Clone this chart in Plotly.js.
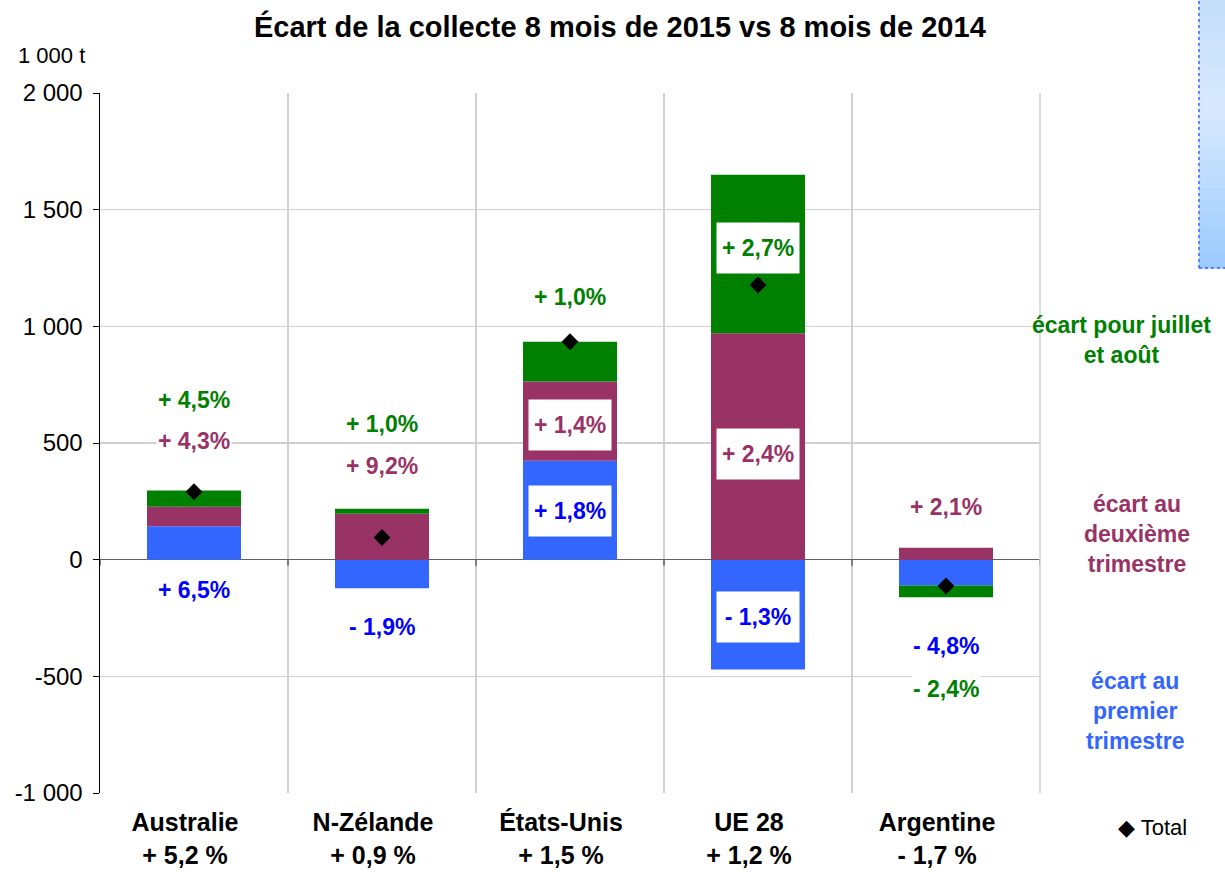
<!DOCTYPE html>
<html>
<head>
<meta charset="utf-8">
<script src="https://cdn.plot.ly/plotly-3.0.1.min.js"></script>
<style>html,body{margin:0;padding:0;background:#fff;}#chart{width:1225px;height:872px;}</style>
</head>
<body>
<div id="chart"></div>
<script>
// ---- data ----
const categories = ['Australie', 'N-Zélande', 'États-Unis', 'UE 28', 'Argentine'];
const totalPct = ['+ 5,2 %', '+ 0,9 %', '+ 1,5 %', '+ 1,2 %', '- 1,7 %'];
const q1 = [143, -123, 424, -471, -111];        // écart au premier trimestre (1 000 t)
const q2 = [84, 197, 340, 970, 51];             // écart au deuxième trimestre
const julAug = [69, 21, 170, 680, -50];         // écart pour juillet et août
const total = [291, 95, 934, 1177, -113];       // Total
const q1Labels = ['+ 6,5%', '- 1,9%', '+ 1,8%', '- 1,3%', '- 4,8%'];
const q2Labels = ['+ 4,3%', '+ 9,2%', '+ 1,4%', '+ 2,4%', '+ 2,1%'];
const julAugLabels = ['+ 4,5%', '+ 1,0%', '+ 1,0%', '+ 2,7%', '- 2,4%'];
const yTickVals = [-1000, -500, 0, 500, 1000, 1500, 2000];
const yTickText = ['-1 000', '-500', '0', '500', '1 000', '1 500', '2 000'];

// ---- label placement (layout only) ----
const q1LabelY = [-129, -290, 209, -246, -369];
const q2LabelY = [507, 400, 577, 453, 226];
const julAugLabelY = [686, 581, 1126, 1336, -554];
const q1Boxed = [false, false, true, true, false];
const q2Boxed = [false, false, true, true, false];
const julAugBoxed = [false, false, false, true, false];

const FONT = 'Arial, "Liberation Sans", sans-serif';
const BLUE = '#3366FF', MAROON = '#993366', GREEN = '#008000';

const xLabels = categories.map((c, i) => '<b>' + c + '<br>' + totalPct[i] + '</b>');

const traces = [
  {type: 'bar', x: categories, y: q1, marker: {color: BLUE}, name: 'écart au premier trimestre', hoverinfo: 'skip'},
  {type: 'bar', x: categories, y: q2, marker: {color: MAROON}, name: 'écart au deuxième trimestre', hoverinfo: 'skip'},
  {type: 'bar', x: categories, y: julAug, marker: {color: GREEN}, name: 'écart pour juillet et août', hoverinfo: 'skip'},
  {type: 'scatter', mode: 'markers', x: categories, y: total, name: 'Total',
   marker: {symbol: 'diamond', color: '#000', size: 13}, hoverinfo: 'skip'}
];

const annotations = [];
function addLabels(texts, ys, boxed, color) {
  texts.forEach((t, i) => {
    const a = {x: i, y: ys[i], xref: 'x', yref: 'y', text: '<b>' + t + '</b>', showarrow: false,
      font: {family: FONT, size: 23, color: color}, bgcolor: '#ffffff', xanchor: 'center', yanchor: 'middle'};
    if (boxed[i]) { a.width = 80; a.height = 48; }
    annotations.push(a);
  });
}
addLabels(q1Labels, q1LabelY, q1Boxed, '#0000FF');
addLabels(q2Labels, q2LabelY, q2Boxed, MAROON);
addLabels(julAugLabels, julAugLabelY, julAugBoxed, GREEN);

// unit label
annotations.push({xref: 'paper', yref: 'paper', x: -0.052, y: 1.054, text: '1 000 t', showarrow: false,
  font: {family: FONT, size: 22, color: '#000'}, xanchor: 'center', yanchor: 'middle'});
// side legend
annotations.push({xref: 'paper', yref: 'paper', x: 1.0862, y: 0.647, text: '<b>écart pour juillet<br>et août</b>', showarrow: false,
  font: {family: FONT, size: 23, color: GREEN}, xanchor: 'center', yanchor: 'middle', align: 'center'});
annotations.push({xref: 'paper', yref: 'paper', x: 1.1032, y: 0.37, text: '<b>écart au<br>deuxième<br>trimestre</b>', showarrow: false,
  font: {family: FONT, size: 23, color: MAROON}, xanchor: 'center', yanchor: 'middle', align: 'center'});
annotations.push({xref: 'paper', yref: 'paper', x: 1.101, y: 0.117, text: '<b>écart au<br>premier<br>trimestre</b>', showarrow: false,
  font: {family: FONT, size: 23, color: BLUE}, xanchor: 'center', yanchor: 'middle', align: 'center'});
annotations.push({xref: 'paper', yref: 'paper', x: 1.12, y: -0.0486, text: '◆ Total', showarrow: false,
  font: {family: FONT, size: 22, color: '#000'}, xanchor: 'center', yanchor: 'middle'});

const shapes = [];
// small ticks on zero line at category boundaries
for (let b = -0.5; b <= 4.5; b += 1) {
  shapes.push({type: 'line', xref: 'x', yref: 'y', x0: b, x1: b, ysizemode: 'pixel', yanchor: 0, y0: 0, y1: -6,
    line: {color: '#606060', width: 1.5}});
}
// right border
shapes.push({type: 'line', xref: 'paper', yref: 'paper', x0: 1, x1: 1, y0: 0, y1: 1, line: {color: '#d0d0d0', width: 1.5}});
// gradient box in top-right corner
const nBands = 20;
const boxX0 = 1.1691, boxX1 = 1.2, boxYTop = 1.1329, boxYBot = 0.75;
const stops = [[0, [196, 221, 250]], [0.4, [216, 233, 253]], [1, [154, 202, 255]]];
function gradColor(f) {
  for (let s = 0; s < stops.length - 1; s++) {
    const [f0, c0] = stops[s], [f1, c1] = stops[s + 1];
    if (f <= f1) {
      const t = (f - f0) / (f1 - f0);
      return 'rgb(' + c0.map((v, j) => Math.round(v + t * (c1[j] - v))).join(',') + ')';
    }
  }
  return 'rgb(154,202,255)';
}
for (let k = 0; k < nBands; k++) {
  const f = (k + 0.5) / nBands;
  const yt = boxYTop - (boxYTop - boxYBot) * k / nBands;
  const yb = boxYTop - (boxYTop - boxYBot) * (k + 1) / nBands;
  shapes.push({type: 'rect', xref: 'paper', yref: 'paper', x0: boxX0, x1: boxX1, y0: yb - 0.001, y1: yt,
    fillcolor: gradColor(f), line: {width: 0}, layer: 'above'});
}
shapes.push({type: 'line', xref: 'paper', yref: 'paper', x0: boxX0, x1: boxX0, y0: boxYBot, y1: boxYTop,
  line: {color: BLUE, width: 1.5, dash: 'dot'}});
shapes.push({type: 'line', xref: 'paper', yref: 'paper', x0: boxX0, x1: boxX1, y0: boxYBot, y1: boxYBot,
  line: {color: BLUE, width: 1.5, dash: 'dot'}});

const layout = {
  width: 1225, height: 872,
  margin: {l: 100, r: 185, t: 93, b: 79, pad: 0},
  paper_bgcolor: '#fff', plot_bgcolor: '#fff',
  barmode: 'relative', bargap: 0.5,
  showlegend: false,
  font: {family: FONT, color: '#000'},
  title: {text: '<b>Écart de la collecte 8 mois de 2015 vs 8 mois de 2014</b>',
    font: {family: FONT, size: 29, color: '#000'}, xref: 'container', yref: 'container',
    x: 0.506, y: 0.969, xanchor: 'center', yanchor: 'middle'},
  xaxis: {type: 'category', range: [-0.5, 4.5], tickson: 'boundaries', showgrid: true, gridcolor: '#d0d0d0', gridwidth: 1.5,
    tickvals: categories, ticktext: xLabels, ticks: '', tickfont: {family: FONT, size: 25, color: '#000'},
    ticklabelstandoff: 12, ticklabelshift: -9,
    zeroline: false, showline: false, fixedrange: true},
  yaxis: {range: [-1000, 2000], tickvals: yTickVals, ticktext: yTickText, showgrid: true, gridcolor: '#d0d0d0', gridwidth: 1.5,
    zeroline: true, zerolinecolor: '#606060', zerolinewidth: 1.5,
    showline: true, linecolor: '#000', linewidth: 1.5, ticks: 'outside', ticklen: 6, tickcolor: '#000',
    ticklabelstandoff: 5,
    tickfont: {family: FONT, size: 24, color: '#000'}, fixedrange: true},
  annotations: annotations,
  shapes: shapes
};

Plotly.newPlot('chart', traces, layout, {displayModeBar: false, staticPlot: true});
</script>
</body>
</html>
